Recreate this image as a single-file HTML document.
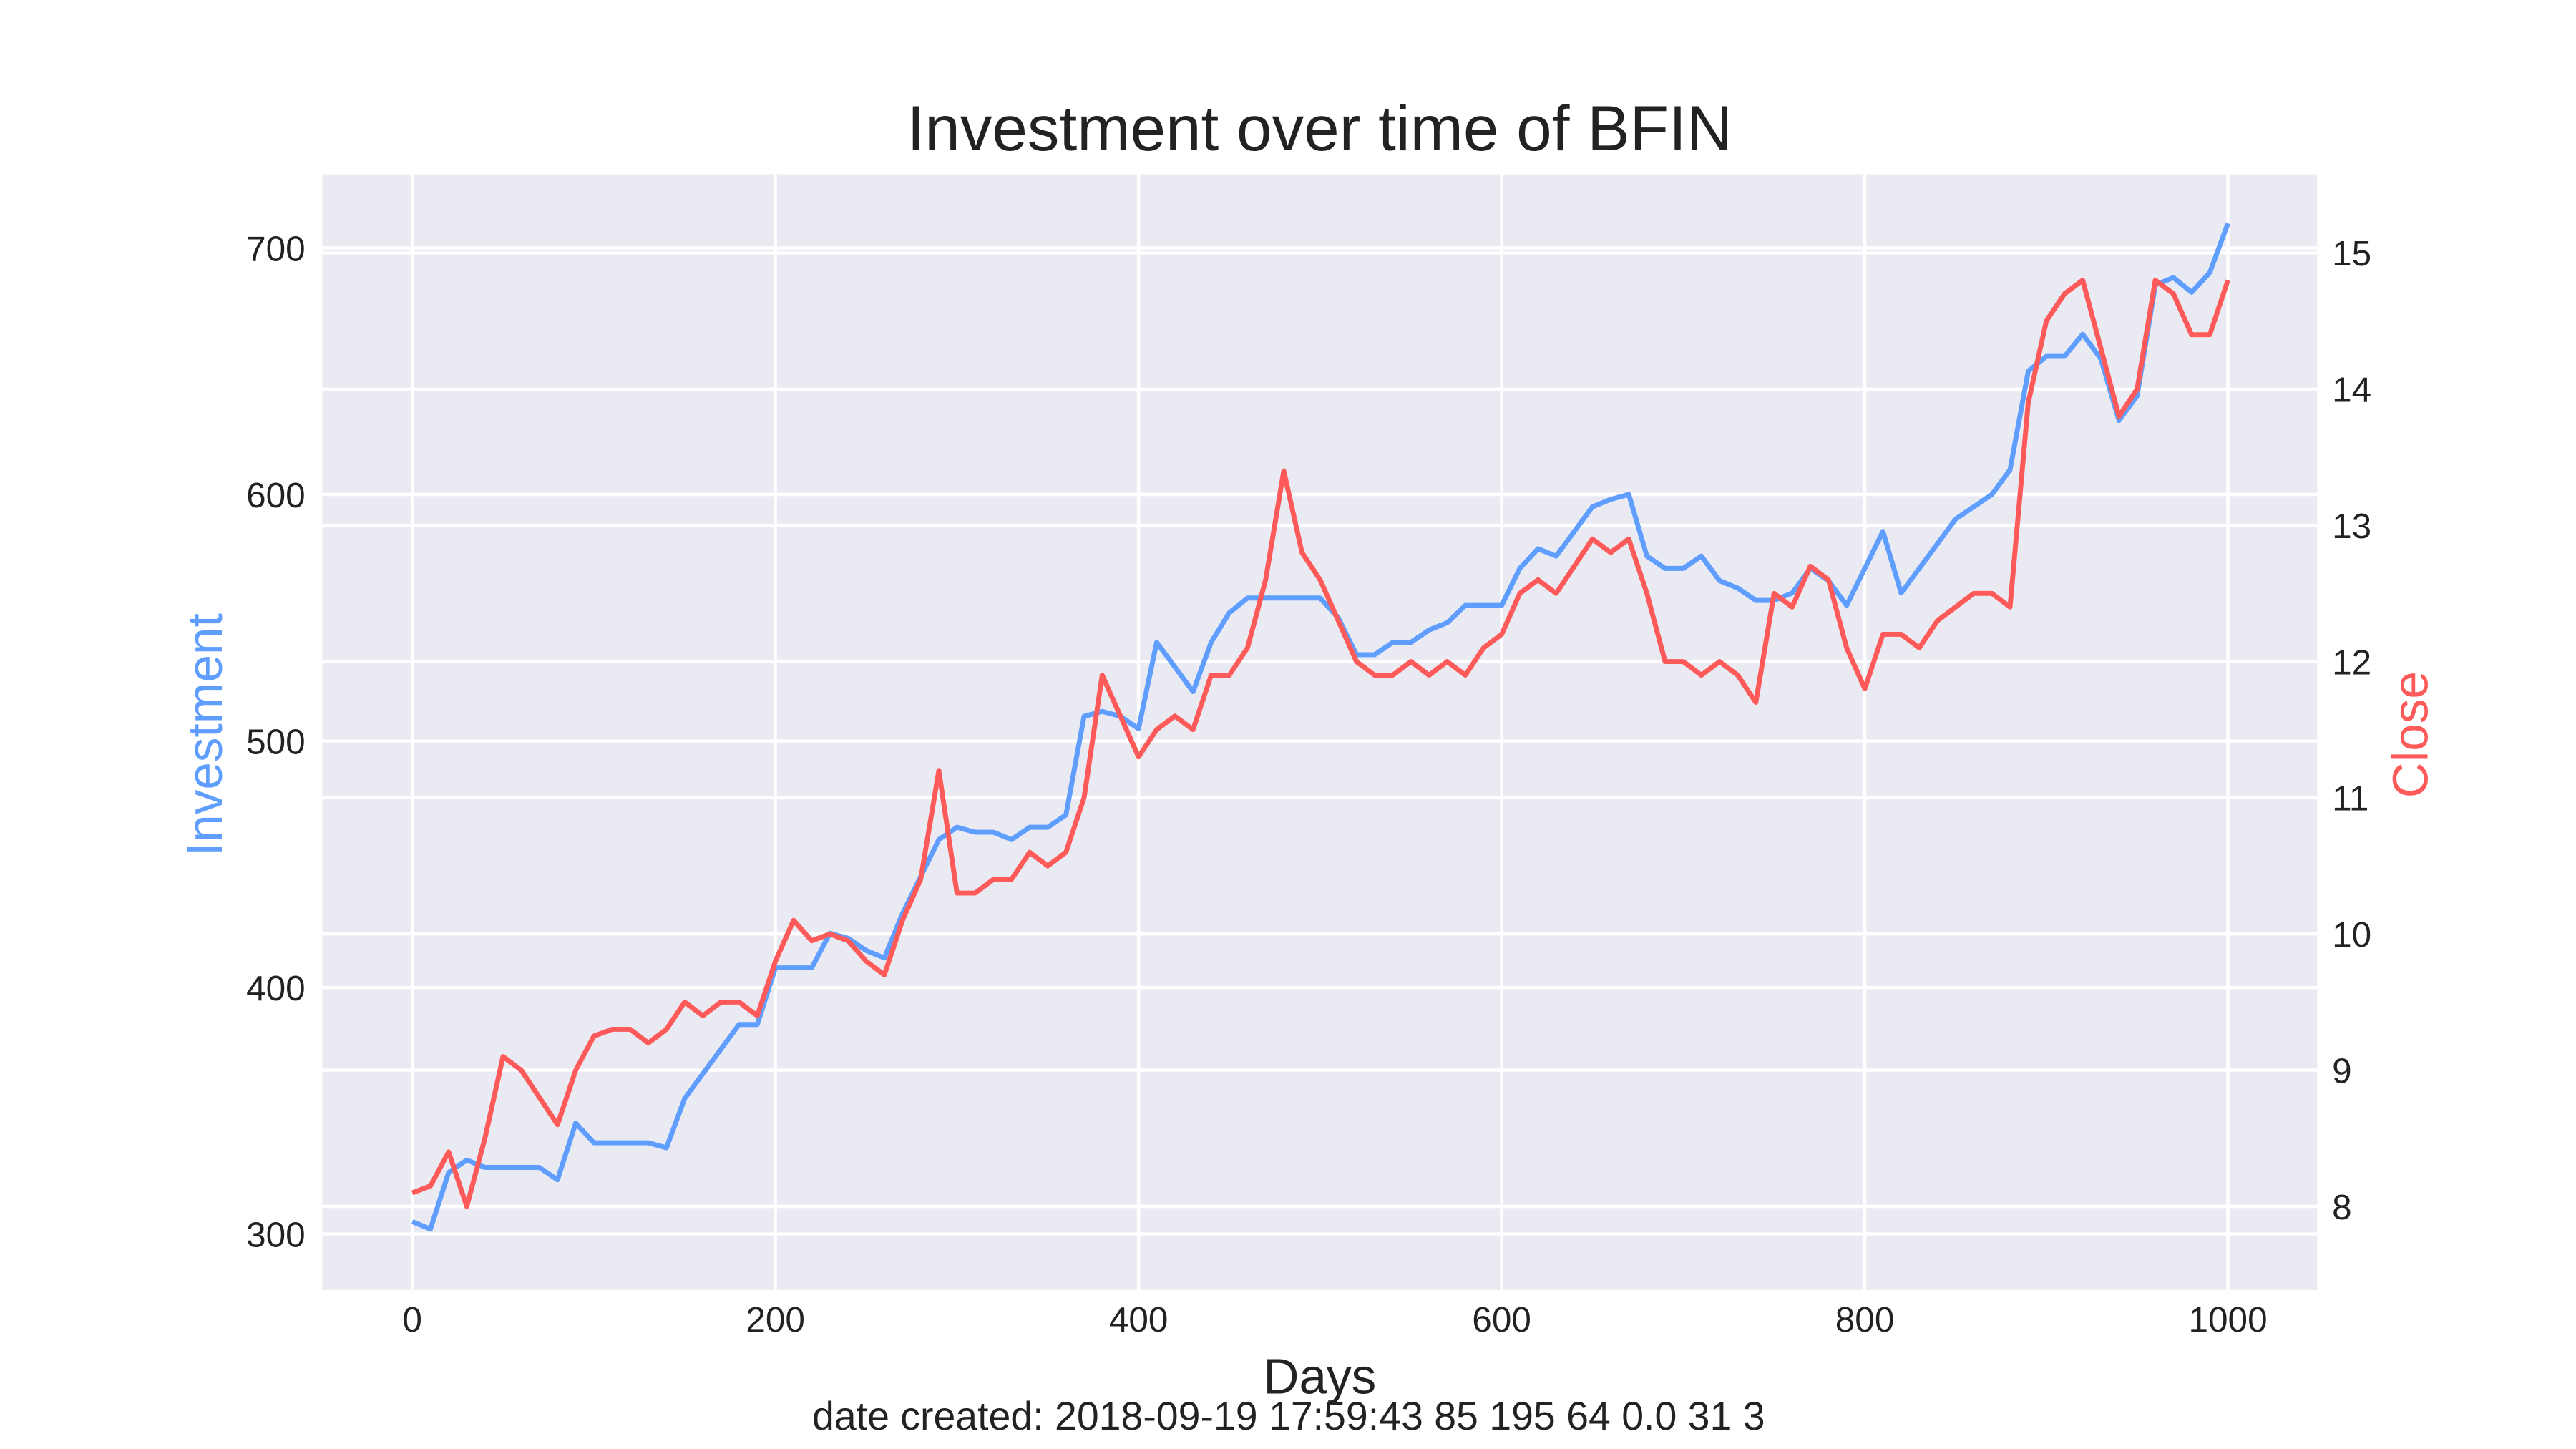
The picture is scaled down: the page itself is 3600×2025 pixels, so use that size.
<!DOCTYPE html>
<html><head><meta charset="utf-8"><style>
html,body{margin:0;padding:0;background:#fff;}
svg{display:block;font-family:"Liberation Sans",Arial,sans-serif;}
</style></head><body>
<svg id="chart" width="3600" height="2025" viewBox="0 0 3600 2025" xmlns="http://www.w3.org/2000/svg">
<g transform="scale(0.99)">
<rect x="455" y="246" width="2816" height="1575" fill="#eaeaf2"/>
<g id="grid"></g>
<g id="series"></g>
<g id="ticks"></g>
<text x="1863" y="212" font-size="90" text-anchor="middle" fill="#222">Investment over time of BFIN</text>
<text x="1863" y="1967" font-size="70" text-anchor="middle" fill="#222">Days</text>
<text transform="translate(313,1037) rotate(-90)" font-size="70" text-anchor="middle" fill="#5f9efe">Investment</text>
<text transform="translate(3427,1037) rotate(-90)" font-size="70" text-anchor="middle" fill="#fe5a5a">Close</text>
<text x="1819" y="2018" font-size="56" text-anchor="middle" fill="#222">date created: 2018-09-19 17:59:43 85 195 64 0.0 31 3</text>
</g>
</svg>
<script>
const days=[0,10,20,30,40,50,60,70,80,90,100,110,120,130,140,150,160,170,180,190,200,210,220,230,240,250,260,270,280,290,300,310,320,330,340,350,360,370,380,390,400,410,420,430,440,450,460,470,480,490,500,510,520,530,540,550,560,570,580,590,600,610,620,630,640,650,660,670,680,690,700,710,720,730,740,750,760,770,780,790,800,810,820,830,840,850,860,870,880,890,900,910,920,930,940,950,960,970,980,990,1000];
const investment=[305,302,325,330,327,327,327,327,322,345,337,337,337,337,335,355,365,375,385,385,408,408,408,422,420,415,412,430,445,460,465,463,463,460,465,465,470,510,512,510,505,540,530,520,540,552,558,558,558,558,558,550,535,535,540,540,545,548,555,555,555,570,578,575,585,595,598,600,575,570,570,575,565,562,557,557,560,570,565,555,570,585,560,570,580,590,595,600,610,650,656,656,665,655,630,640,685,688,682,690,710];
const closeVals=[8.1,8.15,8.4,8.0,8.5,9.1,9.0,8.8,8.6,9.0,9.25,9.3,9.3,9.2,9.3,9.5,9.4,9.5,9.5,9.4,9.8,10.1,9.95,10.0,9.95,9.8,9.7,10.1,10.4,11.2,10.3,10.3,10.4,10.4,10.6,10.5,10.6,11.0,11.9,11.6,11.3,11.5,11.6,11.5,11.9,11.9,12.1,12.6,13.4,12.8,12.6,12.3,12.0,11.9,11.9,12.0,11.9,12.0,11.9,12.1,12.2,12.5,12.6,12.5,12.7,12.9,12.8,12.9,12.5,12.0,12.0,11.9,12.0,11.9,11.7,12.5,12.4,12.7,12.6,12.1,11.8,12.2,12.2,12.1,12.3,12.4,12.5,12.5,12.4,13.9,14.5,14.7,14.8,14.3,13.8,14.0,14.8,14.7,14.4,14.4,14.8];
const xTicks=[0,200,400,600,800,1000];
const leftTicks=[300,400,500,600,700];
const rightTicks=[8,9,10,11,12,13,14,15];

const X=d=>582+(d-0)*(3145-582)/1000;
const YL=v=>1742-(v-300)*(1742-350)/400;
const YR=v=>1703-(v-8)*(1703-357)/7;
const NS="http://www.w3.org/2000/svg";
const grid=document.getElementById('grid'),series=document.getElementById('series'),ticks=document.getElementById('ticks');
function line(x1,y1,x2,y2,name){
  const l=document.createElementNS(NS,'line');
  l.setAttribute('x1',x1);l.setAttribute('y1',y1);l.setAttribute('x2',x2);l.setAttribute('y2',y2);
  l.setAttribute('stroke','#fff');l.setAttribute('stroke-width','4.5');
  
  
  grid.appendChild(l);
}
function label(x,y,t,anchor,name){
  const e=document.createElementNS(NS,'text');
  e.setAttribute('x',x);e.setAttribute('y',y);e.setAttribute('font-size','50');e.setAttribute('fill','#222');e.setAttribute('text-anchor',anchor);
  e.textContent=t;
  
  
  ticks.appendChild(e);
}
xTicks.forEach(t=>{line(X(t),246,X(t),1821,'x-grid-line');label(X(t),1880,t,'middle','x-tick-label');});
leftTicks.forEach(t=>{line(455,YL(t),3271,YL(t),'left-y-grid-line');label(431,YL(t)+18,t,'end','left-y-tick-label');});
rightTicks.forEach(t=>{line(455,YR(t),3271,YR(t),'right-y-grid-line');label(3292,YR(t)+18,t,'start','right-y-tick-label');});
function path(vals,yf,color,name){
  const p=document.createElementNS(NS,'path');
  p.setAttribute('d',vals.map((v,i)=>(i?'L':'M')+X(days[i]).toFixed(1)+','+yf(v).toFixed(1)).join(''));
  p.setAttribute('fill','none');p.setAttribute('stroke',color);p.setAttribute('stroke-width','7');p.setAttribute('stroke-linejoin','round');
  
  
  series.appendChild(p);
}
path(investment,YL,'#5f9efe','investment-line');
path(closeVals,YR,'#fe5a5a','close-line');
</script>
</body></html>
